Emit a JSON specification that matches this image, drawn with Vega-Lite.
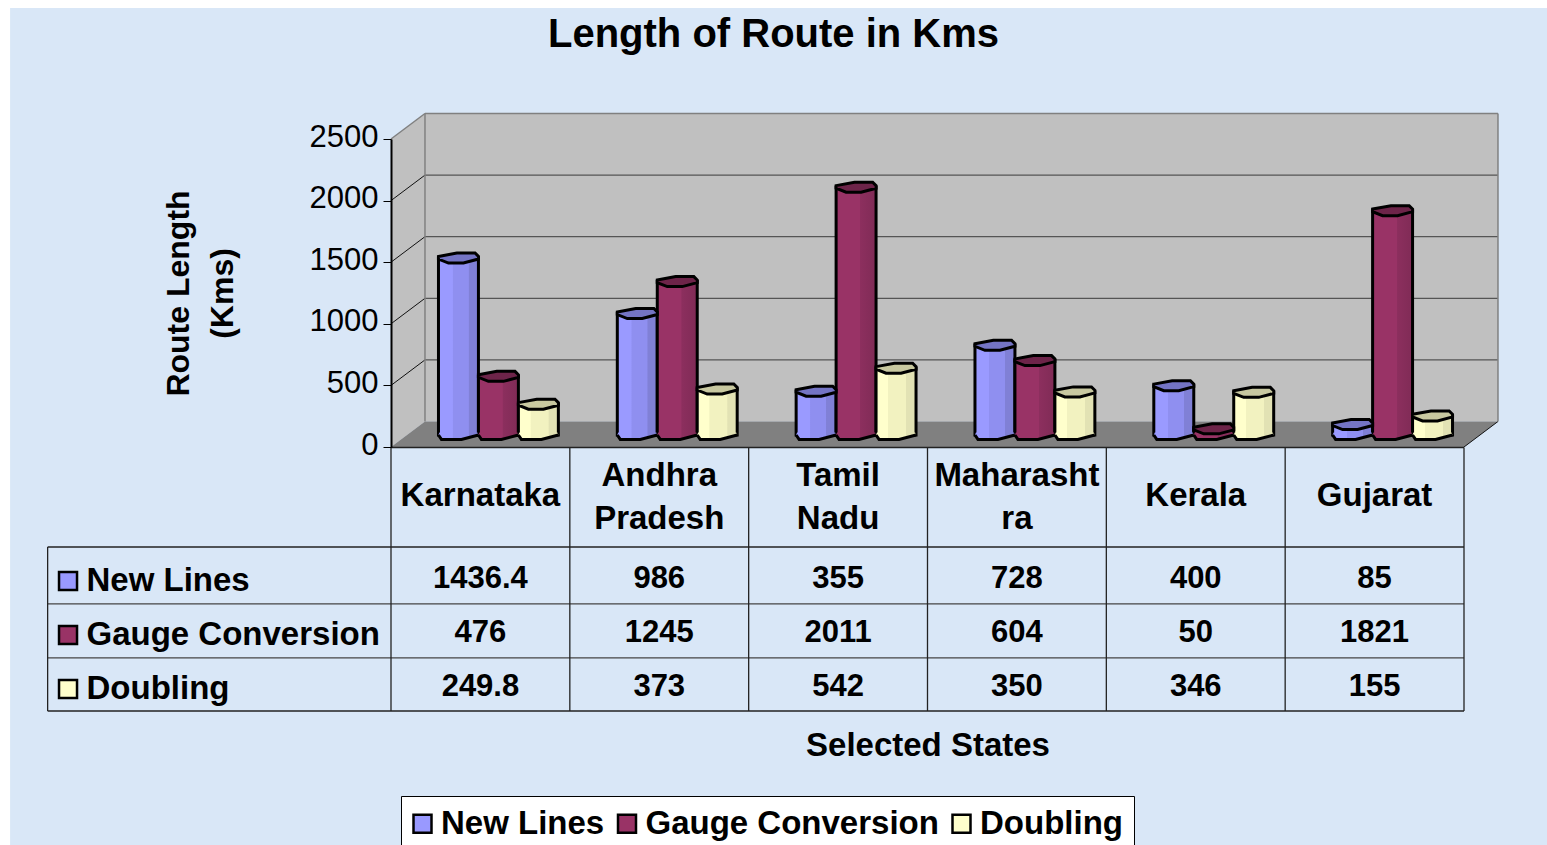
{
"$schema":"https://vega.github.io/schema/vega-lite/v6.json",
"width":1073,"height":572,"autosize":{"type":"none"},
"padding":{"left":391,"top":139,"right":83,"bottom":134},
"background":"white",
"title":{"text":"Length of Route in Kms","font":"Liberation Sans","fontSize":40,"fontWeight":"bold","color":"black","anchor":"middle","dx":-154,"offset":-47},
"config":{"view":{"stroke":null},"font":"Liberation Sans"},
"datasets":{
"rows":[
{"state":"Karnataka","series":"New Lines","value":1436.4},{"state":"Andhra Pradesh","series":"New Lines","value":986},{"state":"Tamil Nadu","series":"New Lines","value":355},{"state":"Maharashtra","series":"New Lines","value":728},{"state":"Kerala","series":"New Lines","value":400},{"state":"Gujarat","series":"New Lines","value":85},
{"state":"Karnataka","series":"Gauge Conversion","value":476},{"state":"Andhra Pradesh","series":"Gauge Conversion","value":1245},{"state":"Tamil Nadu","series":"Gauge Conversion","value":2011},{"state":"Maharashtra","series":"Gauge Conversion","value":604},{"state":"Kerala","series":"Gauge Conversion","value":50},{"state":"Gujarat","series":"Gauge Conversion","value":1821},
{"state":"Karnataka","series":"Doubling","value":249.8},{"state":"Andhra Pradesh","series":"Doubling","value":373},{"state":"Tamil Nadu","series":"Doubling","value":542},{"state":"Maharashtra","series":"Doubling","value":350},{"state":"Kerala","series":"Doubling","value":346},{"state":"Gujarat","series":"Doubling","value":155}],
"states":[{"state":"Karnataka","label":"Karnataka","lines":"one"},{"state":"Andhra Pradesh","label":"Andhra\nPradesh","lines":"two"},{"state":"Tamil Nadu","label":"Tamil\nNadu","lines":"two"},{"state":"Maharashtra","label":"Maharasht\nra","lines":"two"},{"state":"Kerala","label":"Kerala","lines":"one"},{"state":"Gujarat","label":"Gujarat","lines":"one"}],
"series":[{"series":"New Lines"},{"series":"Gauge Conversion"},{"series":"Doubling"}],
"surfaces":[
{"surface":"page","d":-2.13,"a":3563,"b":-3230},{"surface":"page","d":6.47,"a":3563,"b":-3230},
{"surface":"left","d":0,"a":0,"b":2500},{"surface":"left","d":0.19,"a":207,"b":2707},
{"surface":"back","d":0.19,"a":207,"b":2707},{"surface":"back","d":6.19,"a":207,"b":2707},
{"surface":"floor","d":0,"a":0,"b":0},{"surface":"floor","d":0.19,"a":207,"b":0},{"surface":"floor","d":6,"a":207,"b":0},{"surface":"floor","d":6.19,"a":207,"b":207}],
"segments":[
{"kind":"side","d":0,"d2":0.19,"a":500,"a2":707},{"kind":"side","d":0,"d2":0.19,"a":1000,"a2":1207},{"kind":"side","d":0,"d2":0.19,"a":1500,"a2":1707},{"kind":"side","d":0,"d2":0.19,"a":2000,"a2":2207},
{"kind":"side","d":6,"d2":6.19,"a":0,"a2":207},
{"kind":"grid","d":0.19,"d2":6.19,"a":707,"a2":707},{"kind":"grid","d":0.19,"d2":6.19,"a":1207,"a2":1207},{"kind":"grid","d":0.19,"d2":6.19,"a":1707,"a2":1707},{"kind":"grid","d":0.19,"d2":6.19,"a":2207,"a2":2207},
{"kind":"edge","d":0,"d2":0.19,"a":2500,"a2":2707},{"kind":"edge","d":0.19,"d2":6.19,"a":2707,"a2":2707},{"kind":"edge","d":6.19,"d2":6.19,"a":2707,"a2":207},{"kind":"edge","d":0.19,"d2":0.19,"a":2707,"a2":207}],
"tablelines":[
{"kind":"outer","c":-1.92,"c2":6,"r":0,"r2":0},{"kind":"inner","c":-1.92,"c2":6,"r":1.04,"r2":1.04},{"kind":"inner","c":-1.92,"c2":6,"r":2.03,"r2":2.03},{"kind":"outer","c":-1.92,"c2":6,"r":3,"r2":3},
{"kind":"outer","c":0,"c2":6,"r":-1.82,"r2":-1.82},
{"kind":"outer","c":-1.92,"c2":-1.92,"r":0,"r2":3},
{"kind":"outer","c":0,"c2":0,"r":-1.82,"r2":3},{"kind":"outer","c":1,"c2":1,"r":-1.82,"r2":3},{"kind":"outer","c":2,"c2":2,"r":-1.82,"r2":3},{"kind":"outer","c":3,"c2":3,"r":-1.82,"r2":3},{"kind":"outer","c":4,"c2":4,"r":-1.82,"r2":3},{"kind":"outer","c":5,"c2":5,"r":-1.82,"r2":3},{"kind":"outer","c":6,"c2":6,"r":-1.82,"r2":3}]
},
"resolve":{"scale":{"x":"independent","y":"independent","color":"independent","stroke":"independent","strokeWidth":"independent"},"axis":{"x":"independent","y":"independent"}},
"layer":[
{"layer":[
{"data":{"name":"surfaces"},"mark":{"type":"area","clip":false,"opacity":1},
"encoding":{"x":{"field":"d","type":"quantitative","axis":null,"scale":{"domain":[0,6],"range":[0,1073],"nice":false,"zero":false}},
"y":{"field":"a","type":"quantitative","stack":null,"scale":{"domain":[0,2500],"range":[308,0],"nice":false,"zero":false},
"axis":{"zindex":1,"orient":"left","format":"d","title":["Route Length","(Kms)"],"titleFont":"Liberation Sans","titleFontSize":32,"titleFontWeight":"bold","titleColor":"black","titleLineHeight":44,"titlePadding":70,"values":[0,500,1000,1500,2000,2500],"labelFont":"Liberation Sans","labelFontSize":31,"labelColor":"black","labelPadding":5,"labelOffset":-2,"tickSize":8,"tickColor":"black","domainColor":"black","domainWidth":2,"grid":false}},
"y2":{"field":"b"},
"fill":{"field":"surface","type":"nominal","legend":null,"scale":{"domain":["page","left","back","floor"],"range":["#d9e7f7","#c0c0c0","#c0c0c0","#808080"]}}}},
{"data":{"name":"segments"},"mark":{"type":"rule"},
"encoding":{"x":{"field":"d","type":"quantitative"},"x2":{"field":"d2"},"y":{"field":"a","type":"quantitative"},"y2":{"field":"a2"},
"stroke":{"field":"kind","type":"nominal","legend":null,"scale":{"domain":["side","grid","edge"],"range":["#111111","#555555","#808080"]}},
"strokeWidth":{"field":"kind","type":"nominal","legend":null,"scale":{"domain":["side","grid","edge"],"range":[1,1.5,2.5]}}}}
]},
{"data":{"name":"rows"},
"encoding":{
"x":{"field":"state","type":"nominal","axis":null,"sort":["Karnataka","Andhra Pradesh","Tamil Nadu","Maharashtra","Kerala","Gujarat"],"scale":{"range":[18,1091],"paddingInner":0,"paddingOuter":0}},
"xOffset":{"field":"series","type":"nominal","sort":["New Lines","Gauge Conversion","Doubling"],"scale":{"paddingInner":0,"paddingOuter":0.7375}}},
"layer":[
{"transform":[{"filter":"datum.series==='New Lines'"}],"mark":{"type":"bar","stroke":"black","strokeWidth":3,"fill":{"gradient":"linear","x1":0,"x2":1,"y1":0,"y2":0,"stops":[{"offset":0,"color":"#9a9aff"},{"offset":0.35,"color":"#9a9aff"},{"offset":0.36,"color":"#8f8ff0"},{"offset":0.75,"color":"#8f8ff0"},{"offset":0.76,"color":"#8080d6"},{"offset":1,"color":"#8080d6"}]}},
"encoding":{"y":{"field":"value","type":"quantitative","stack":null,"axis":null,"scale":{"domain":[0,2500],"range":[296,-12],"nice":false,"zero":false}}}},
{"transform":[{"filter":"datum.series==='Gauge Conversion'"}],"mark":{"type":"bar","stroke":"black","strokeWidth":3,"fill":{"gradient":"linear","x1":0,"x2":1,"y1":0,"y2":0,"stops":[{"offset":0,"color":"#993366"},{"offset":0.6,"color":"#993366"},{"offset":0.61,"color":"#8c2f5e"},{"offset":1,"color":"#802b56"}]}},
"encoding":{"y":{"field":"value","type":"quantitative","stack":null}}},
{"transform":[{"filter":"datum.series==='Doubling'"}],"mark":{"type":"bar","stroke":"black","strokeWidth":3,"fill":{"gradient":"linear","x1":0,"x2":1,"y1":0,"y2":0,"stops":[{"offset":0,"color":"#ffffcc"},{"offset":0.3,"color":"#ffffcc"},{"offset":0.31,"color":"#f2f2c0"},{"offset":0.75,"color":"#f2f2c0"},{"offset":0.76,"color":"#e2e2b4"},{"offset":1,"color":"#e2e2b4"}]}},
"encoding":{"y":{"field":"value","type":"quantitative","stack":null}}},
{"transform":[{"filter":"datum.series==='New Lines'"}],"mark":{"type":"point","filled":true,"shape":"M-0.95,-0.12L0.95,-0.12L1,0L0.15,0.22L-0.85,0.22L-1,0Z","size":1600,"opacity":1,"fill":{"gradient":"linear","x1":0,"x2":1,"y1":0,"y2":0,"stops":[{"offset":0,"color":"#9a9aff"},{"offset":0.35,"color":"#9a9aff"},{"offset":0.36,"color":"#8f8ff0"},{"offset":0.75,"color":"#8f8ff0"},{"offset":0.76,"color":"#8080d6"},{"offset":1,"color":"#8080d6"}]}},
"encoding":{"y":{"datum":0,"type":"quantitative"}}},
{"transform":[{"filter":"datum.series==='Gauge Conversion'"}],"mark":{"type":"point","filled":true,"shape":"M-0.95,-0.12L0.95,-0.12L1,0L0.15,0.22L-0.85,0.22L-1,0Z","size":1600,"opacity":1,"fill":{"gradient":"linear","x1":0,"x2":1,"y1":0,"y2":0,"stops":[{"offset":0,"color":"#993366"},{"offset":0.6,"color":"#993366"},{"offset":0.61,"color":"#8c2f5e"},{"offset":1,"color":"#802b56"}]}},
"encoding":{"y":{"datum":0,"type":"quantitative"}}},
{"transform":[{"filter":"datum.series==='Doubling'"}],"mark":{"type":"point","filled":true,"shape":"M-0.95,-0.12L0.95,-0.12L1,0L0.15,0.22L-0.85,0.22L-1,0Z","size":1600,"opacity":1,"fill":{"gradient":"linear","x1":0,"x2":1,"y1":0,"y2":0,"stops":[{"offset":0,"color":"#ffffcc"},{"offset":0.3,"color":"#ffffcc"},{"offset":0.31,"color":"#f2f2c0"},{"offset":0.75,"color":"#f2f2c0"},{"offset":0.76,"color":"#e2e2b4"},{"offset":1,"color":"#e2e2b4"}]}},
"encoding":{"y":{"datum":0,"type":"quantitative"}}},
{"mark":{"type":"point","filled":false,"shape":"M-1,0L-0.85,0.22L0.15,0.22L1,0","size":1600,"opacity":1,"stroke":"black","strokeWidth":3},
"encoding":{"y":{"datum":0,"type":"quantitative"}}},
{"mark":{"type":"point","filled":true,"shape":"M-1,-0.08L-0.08,-0.25L0.83,-0.25L1,-0.08L1,0.05L0.25,0.25L-0.5,0.25L-1,0.05Z","size":1600,"opacity":1,"stroke":"black","strokeWidth":3},
"encoding":{"y":{"field":"value","type":"quantitative","stack":null},
"color":{"field":"series","type":"nominal","legend":null,"scale":{"domain":["New Lines","Gauge Conversion","Doubling"],"range":["#7474c4","#6d2449","#c8c8a0"]}}}}
]},
{"data":{"name":"tablelines"},"mark":{"type":"rule"},
"encoding":{"x":{"field":"c","type":"quantitative","axis":null,"scale":{"domain":[0,6],"range":[0,1073],"nice":false,"zero":false}},"x2":{"field":"c2"},
"y":{"field":"r","type":"quantitative","axis":null,"scale":{"domain":[0,3],"range":[408,572],"nice":false,"zero":false}},"y2":{"field":"r2"},
"stroke":{"field":"kind","type":"nominal","legend":null,"scale":{"domain":["outer","inner"],"range":["#222222","#444444"]}},
"strokeWidth":{"value":1.3}}},
{"data":{"name":"states"},"mark":{"type":"text","lineBreak":"\n","lineHeight":43,"font":"Liberation Sans","fontWeight":"bold","fontSize":33,"color":"black","baseline":"middle"},
"encoding":{"x":{"field":"state","type":"nominal","sort":["Karnataka","Andhra Pradesh","Tamil Nadu","Maharashtra","Kerala","Gujarat"],"scale":{"paddingInner":0,"paddingOuter":0},
"axis":{"zindex":1,"orient":"bottom","title":"Selected States","titleFont":"Liberation Sans","titleFontSize":33,"titleFontWeight":"bold","titleColor":"black","titlePadding":18,"labels":false,"ticks":false,"domain":false,"grid":false}},
"y":{"field":"lines","type":"nominal","axis":null,"scale":{"domain":["two","one"],"range":[327,367],"paddingInner":0,"paddingOuter":0}},
"text":{"field":"label","type":"nominal"}}},
{"data":{"name":"rows"},"mark":{"type":"text","font":"Liberation Sans","fontWeight":"bold","fontSize":31,"color":"black","baseline":"middle"},
"encoding":{"x":{"field":"state","type":"nominal","axis":null,"sort":["Karnataka","Andhra Pradesh","Tamil Nadu","Maharashtra","Kerala","Gujarat"],"scale":{"paddingInner":0,"paddingOuter":0}},
"y":{"field":"series","type":"nominal","sort":["New Lines","Gauge Conversion","Doubling"],"axis":null,"scale":{"domain":["New Lines","Gauge Conversion","Doubling"],"range":[413,575],"paddingInner":0,"paddingOuter":0}},
"text":{"field":"value","type":"nominal"}}},
{"data":{"name":"series"},"mark":{"type":"point","filled":true,"shape":"square","size":324,"opacity":1,"stroke":"black","strokeWidth":2.5},
"encoding":{"x":{"datum":-1.806,"type":"quantitative","axis":null,"scale":{"domain":[0,6],"range":[0,1073],"nice":false,"zero":false}},
"y":{"field":"series","type":"nominal","sort":["New Lines","Gauge Conversion","Doubling"],"scale":{"domain":["New Lines","Gauge Conversion","Doubling"],"range":[415,577],"paddingInner":0,"paddingOuter":0},
"axis":{"zindex":1,"title":null,"orient":"left","labelAlign":"left","labelBaseline":"middle","labelPadding":305,"labelOffset":-1,"ticks":false,"tickSize":0,"domain":false,"labelFont":"Liberation Sans","labelFontWeight":"bold","labelFontSize":33,"labelColor":"black","labelLimit":400,"grid":false}},
"color":{"field":"series","type":"nominal","sort":["New Lines","Gauge Conversion","Doubling"],"scale":{"domain":["New Lines","Gauge Conversion","Doubling"],"range":["#9999ff","#993366","#ffffcc"]},
"legend":{"orient":"none","legendX":10,"legendY":657,"direction":"horizontal","columns":3,"title":null,"fillColor":"white","strokeColor":"black","padding":11,"symbolType":"square","symbolSize":324,"symbolStrokeColor":"black","symbolStrokeWidth":2.5,"symbolOpacity":1,"symbolOffset":-6,"labelFont":"Liberation Sans","labelFontWeight":"bold","labelFontSize":33,"labelColor":"black","labelLimit":400,"columnPadding":7.5,"labelOffset":2}}}}
]
}
